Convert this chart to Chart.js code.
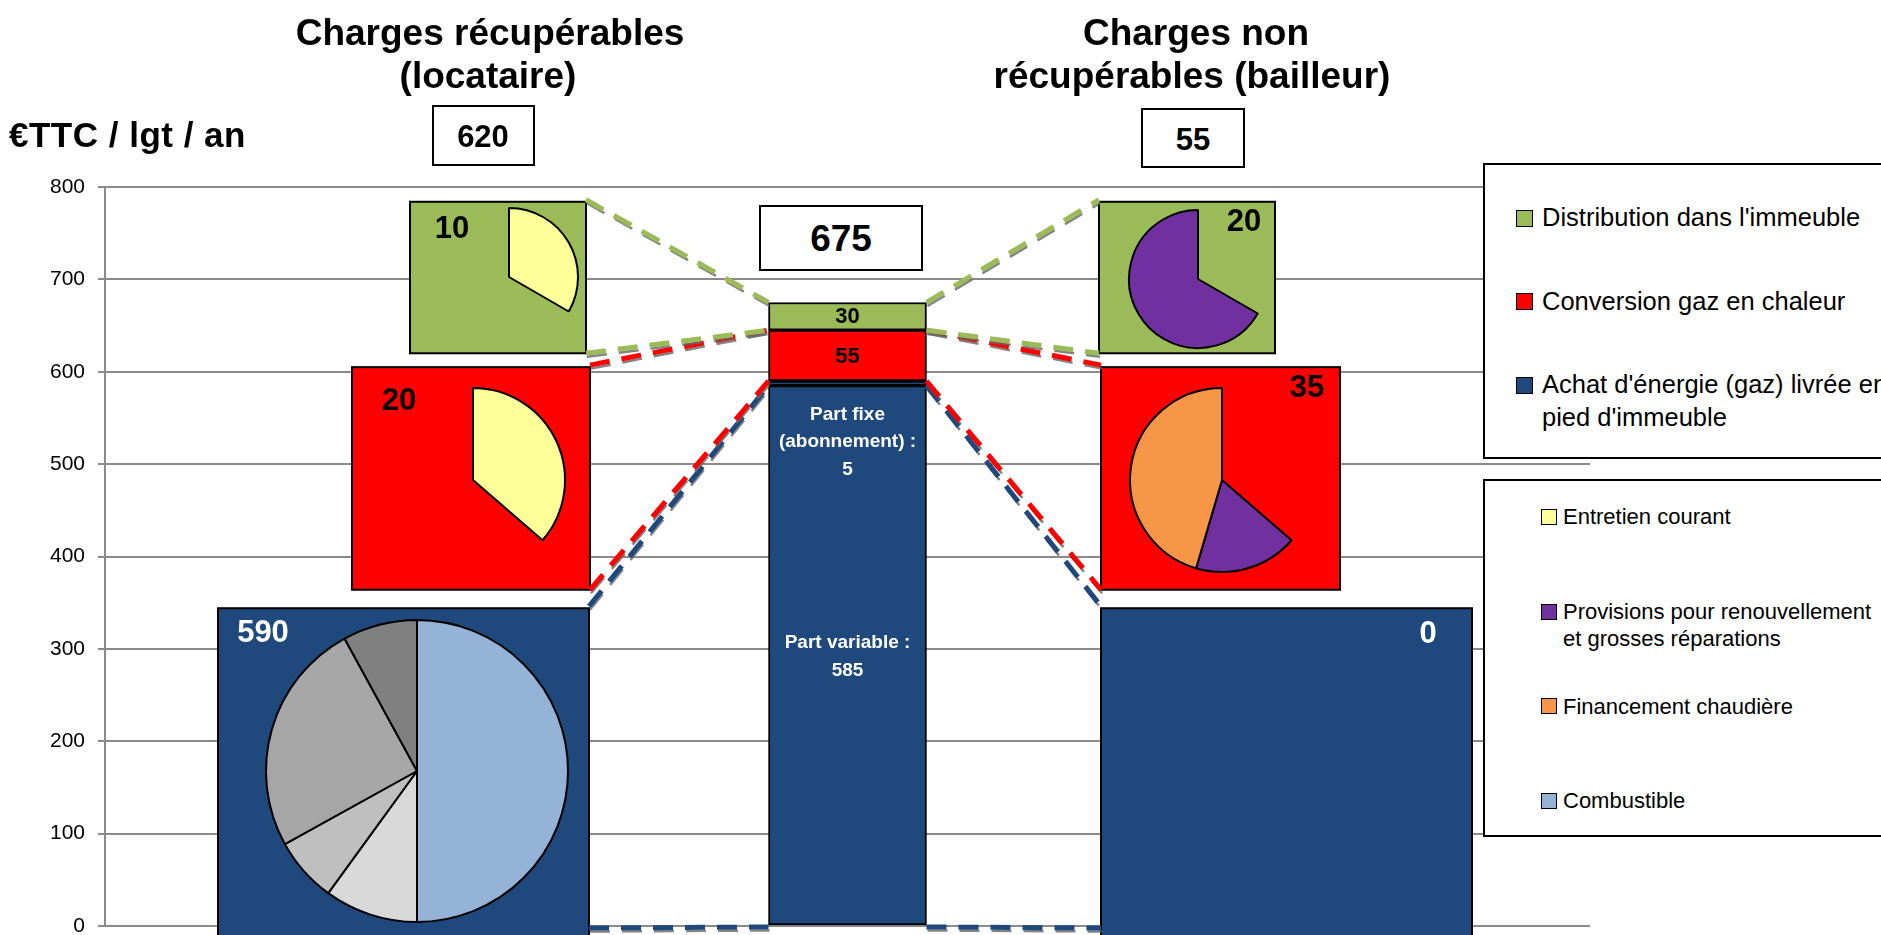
<!DOCTYPE html>
<html>
<head>
<meta charset="utf-8">
<script src="https://cdn.jsdelivr.net/npm/chart.js@4.4.0/dist/chart.umd.min.js"></script>
<style>
  body { margin: 0; background: #fff; }
  #wrap { position: relative; width: 1881px; height: 935px; overflow: hidden; font-family: "Liberation Sans", Arial, sans-serif; }
  #wrap canvas { position: absolute; }
  .t { position: absolute; white-space: nowrap; color: #000; }
  .box { position: absolute; border: 2px solid #000; box-sizing: border-box; background: #fff; }
  .sw { position: absolute; border: 1.5px solid #000; box-sizing: border-box; }
</style>
</head>
<body>
<div id="wrap">
  <canvas id="main" width="1881" height="935" style="left:0;top:0"></canvas>
</div>
<script>
// y axis
const yMin = 0;
const yMax = 800;
const yStep = 100;
const yUnit = '€TTC / lgt / an';

// columns: tenant side, total bar, landlord side
const categories = ['Charges récupérables (locataire)', 'Total', 'Charges non récupérables (bailleur)'];

// series, stacked bottom -> top
const seriesNames = ["Achat d'énergie (gaz) livrée en pied d'immeuble", 'Conversion gaz en chaleur', "Distribution dans l'immeuble"];
const locataire = [590, 20, 10];
const bailleur = [0, 35, 20];

// the energy purchase split in the middle bar
const achatParts = [585, 5];
const achatPartLabels = ['Part variable :', 'Part fixe (abonnement) :'];

// sub-components shown in the pies
const subNames = ['Entretien courant', 'Provisions pour renouvellement et grosses réparations', 'Financement chaudière', 'Combustible'];
const achatSplit = [295, 59, 41, 148, 47];   // combustible + other parts
const conversionSplit = [20, 10, 25];        // entretien, provisions, financement
const conversionPayer = ['L', 'R', 'R'];
const distributionSplit = [10, 20];          // entretien, provisions
const distributionPayer = ['L', 'R'];

const palette = {
  series: ['#1F497D', '#FF0000', '#9BBB59'],
  sub: ['#FFFF99', '#7030A0', '#F79646', '#95B3D7'],
  achatSplit: ['#95B3D7', '#D9D9D9', '#BFBFBF', '#A6A6A6', '#808080'],
  grid: '#8a8a8a'
};

const FONT = '"Liberation Sans", Arial, sans-serif';

// inset frames beside the bar (x in px, vertical extent in axis units)
const insets = [
  { side: 'L', s: 0, x0: 218, x1: 589, lo: -12, hi: 344, lx: 45, ly: 25 },
  { side: 'L', s: 1, x0: 352, x1: 590, lo: 364, hi: 605, lx: 47, ly: 34 },
  { side: 'L', s: 2, x0: 410, x1: 586, lo: 620, hi: 784, lx: 42, ly: 28 },
  { side: 'R', s: 0, x0: 1101, x1: 1472, lo: -12, hi: 344, lx: 44, ly: 26 },
  { side: 'R', s: 1, x0: 1101, x1: 1340, lo: 364, hi: 605, lx: 33, ly: 21 },
  { side: 'R', s: 2, x0: 1099, x1: 1275, lo: 620, hi: 784, lx: 31, ly: 21 }
];

const pies = [
  { side: 'L', s: 0, cx: 417, cy: 168, r: 151 },
  { side: 'L', s: 1, cx: 473, cy: 483, r: 92 },
  { side: 'R', s: 1, cx: 1222, cy: 483, r: 92 },
  { side: 'L', s: 2, cx: 509, cy: 703, r: 69 },
  { side: 'R', s: 2, cx: 1198, cy: 700, r: 69 }
];

const sum = a => a.reduce((p, c) => p + c, 0);
const totals = locataire.map((v, i) => v + bailleur[i]);

function dashLine(ctx, x1, y1, x2, y2, color) {
  ctx.save();
  ctx.setLineDash([20, 12]);
  ctx.lineCap = 'butt';
  ctx.strokeStyle = 'rgba(100,100,100,0.8)';
  ctx.lineWidth = 2.5;
  ctx.beginPath();
  ctx.moveTo(x1 + 1, y1 + 3.5);
  ctx.lineTo(x2 + 1, y2 + 3.5);
  ctx.stroke();
  ctx.strokeStyle = color;
  ctx.lineWidth = 5;
  ctx.beginPath();
  ctx.moveTo(x1, y1);
  ctx.lineTo(x2, y2);
  ctx.stroke();
  ctx.restore();
}

// dataset of the middle bar that each series connects to
const segOf = [0, 2, 3];

const decor = {
  id: 'decor',
  beforeDatasetsDraw(chart) {
    const ctx = chart.ctx;
    const y = chart.scales.y;
    insets.forEach(b => {
      const top = y.getPixelForValue(b.hi);
      const bottom = y.getPixelForValue(b.lo);
      ctx.fillStyle = palette.series[b.s];
      ctx.fillRect(b.x0, top, b.x1 - b.x0, bottom - top);
      ctx.strokeStyle = '#000';
      ctx.lineWidth = 2;
      ctx.strokeRect(b.x0, top, b.x1 - b.x0, bottom - top);
      const val = b.side === 'L' ? locataire[b.s] : bailleur[b.s];
      ctx.fillStyle = b.s === 0 ? '#fff' : '#000';
      ctx.font = 'bold 31px ' + FONT;
      ctx.textAlign = 'center';
      ctx.textBaseline = 'middle';
      const lx = b.side === 'L' ? b.x0 + b.lx : b.x1 - b.lx;
      ctx.fillText(String(val), lx, top + b.ly);
    });
  },
  afterDatasetsDraw(chart) {
    const ctx = chart.ctx;
    const y = chart.scales.y;
    const el = i => chart.getDatasetMeta(i).data[1];
    const bar = el(0);
    const barL = bar.x - bar.width / 2;
    const barR = bar.x + bar.width / 2;

    // connectors from the insets to the bar segments
    insets.forEach(b => {
      const top = y.getPixelForValue(b.hi);
      const bottom = b.s === 0 ? y.getPixelForValue(0) + 2 : y.getPixelForValue(b.lo);
      const segTop = el(segOf[b.s]).y;
      const segBase = b.s === 0 ? el(0).base + 2 : el(segOf[b.s]).base;
      const color = palette.series[b.s];
      if (b.side === 'L') {
        dashLine(ctx, b.x1, top - 2, barL, segTop, color);
        dashLine(ctx, b.x1, bottom, barL, segBase, color);
      } else {
        dashLine(ctx, barR, segTop, b.x0, top - 2, color);
        dashLine(ctx, barR, segBase, b.x0, bottom, color);
      }
    });

    // labels in the bar
    ctx.save();
    ctx.textAlign = 'center';
    ctx.textBaseline = 'middle';
    ctx.font = 'bold 22px ' + FONT;
    ctx.fillStyle = '#000';
    [2, 3].forEach(i => {
      const e = el(i);
      ctx.fillText(String(chart.data.datasets[i].data[1]), e.x, (e.y + e.base) / 2 + 1);
    });
    ctx.font = 'bold 19px ' + FONT;
    ctx.fillStyle = '#fff';
    const vTop = el(0).y;
    const fixe = ['Part fixe', '(abonnement) :', String(achatParts[1])];
    fixe.forEach((t, k) => ctx.fillText(t, bar.x, vTop + 29 + k * 27.5));
    const variable = [achatPartLabels[0], String(achatParts[0])];
    variable.forEach((t, k) => ctx.fillText(t, bar.x, vTop + 257 + k * 28.5));
    ctx.restore();
  }
};

Chart.defaults.font.family = FONT;

const barStyle = { backgroundColor: palette.series[0], borderColor: '#000', borderWidth: 2, borderSkipped: false, barThickness: 158, stack: 's' };

const chart = new Chart(document.getElementById('main'), {
  type: 'bar',
  data: {
    labels: categories,
    datasets: [
      { ...barStyle, label: achatPartLabels[0], data: [null, achatParts[0], null] },
      { ...barStyle, label: achatPartLabels[1], data: [null, achatParts[1], null] },
      { ...barStyle, label: seriesNames[1], data: [null, totals[1], null], backgroundColor: palette.series[1] },
      { ...barStyle, label: seriesNames[2], data: [null, totals[2], null], backgroundColor: palette.series[2] }
    ]
  },
  options: {
    responsive: false,
    animation: false,
    events: [],
    layout: { padding: { left: 0, top: 187, right: 291, bottom: 9 } },
    plugins: { legend: { display: false }, tooltip: { enabled: false } },
    scales: {
      x: { stacked: true, display: false },
      y: {
        stacked: true,
        min: yMin,
        max: yMax,
        ticks: { stepSize: yStep, color: '#000', padding: 13, font: { size: 21 } },
        grid: { color: palette.grid, lineWidth: 2, tickLength: 7 },
        border: { color: palette.grid, width: 2 },
        afterFit(s) { s.width = 105; s.paddingTop = 0; s.paddingBottom = 0; }
      }
    }
  },
  plugins: [decor]
});

// pies inside the insets
const wrap = document.getElementById('wrap');
const splits = [achatSplit, conversionSplit, distributionSplit];
const payers = [achatSplit.map(() => 'L'), conversionPayer, distributionPayer];
const sliceColors = [palette.achatSplit, [palette.sub[0], palette.sub[1], palette.sub[2]], [palette.sub[0], palette.sub[1]]];

pies.forEach(p => {
  const size = 2 * p.r + 10;
  const cv = document.createElement('canvas');
  cv.width = size;
  cv.height = size;
  const cy = chart.scales.y.getPixelForValue(p.cy);
  cv.style.left = (p.cx - size / 2) + 'px';
  cv.style.top = (cy - size / 2) + 'px';
  wrap.appendChild(cv);
  const show = payers[p.s].map(v => v === p.side);
  new Chart(cv, {
    type: 'pie',
    data: {
      labels: splits[p.s].map((v, i) => i),
      datasets: [{
        data: splits[p.s],
        radius: p.r,
        backgroundColor: sliceColors[p.s].map((c, i) => (show[i] ? c : 'rgba(0,0,0,0)')),
        borderColor: '#000',
        borderWidth: show.map(v => (v ? 2 : 0))
      }]
    },
    options: {
      responsive: false,
      animation: false,
      events: [],
      plugins: { legend: { display: false }, tooltip: { enabled: false } }
    }
  });
});

// texts and legends
function addText(txt, o) {
  const d = document.createElement('div');
  d.className = 't';
  d.textContent = txt;
  const s = o.size;
  const L = o.lh || s;
  d.style.fontSize = s + 'px';
  d.style.lineHeight = L + 'px';
  if (o.bold) d.style.fontWeight = 'bold';
  if (o.spacing) d.style.letterSpacing = o.spacing + 'px';
  if (o.width) { d.style.width = o.width + 'px'; d.style.whiteSpace = 'normal'; }
  d.style.top = (o.baseline - ((L - 1.117 * s) / 2 + 0.905 * s)) + 'px';
  if (o.cx !== undefined) {
    d.style.left = o.cx + 'px';
    d.style.transform = 'translateX(-50%)';
  } else {
    d.style.left = o.x + 'px';
  }
  wrap.appendChild(d);
  return d;
}

function addBox(x, y, w, h) {
  const d = document.createElement('div');
  d.className = 'box';
  Object.assign(d.style, { left: x + 'px', top: y + 'px', width: w + 'px', height: h + 'px' });
  wrap.appendChild(d);
}

addText(yUnit, { x: 9, baseline: 147, size: 35, bold: true, spacing: 0.5 });

addText('Charges récupérables', { cx: 490, baseline: 45, size: 37, bold: true });
addText('(locataire)', { cx: 488, baseline: 88, size: 37, bold: true });
addText('Charges non', { cx: 1196, baseline: 45, size: 37, bold: true });
addText('récupérables (bailleur)', { cx: 1192, baseline: 88, size: 37, bold: true });

addBox(432, 105, 103, 61);
addText(String(sum(locataire)), { cx: 483, baseline: 147, size: 31, bold: true });
addBox(1141, 108, 104, 60);
addText(String(sum(bailleur)), { cx: 1193, baseline: 150, size: 31, bold: true });
addBox(759, 205, 164, 66);
addText(String(sum(totals)), { cx: 841, baseline: 251, size: 37, bold: true });

// legend of the series
addBox(1483, 163, 460, 296);
const legend1 = [
  { s: 2, sq: 210, base: 226 },
  { s: 1, sq: 293, base: 310 },
  { s: 0, sq: 377, base: 393 }
];
legend1.forEach(it => {
  const sw = document.createElement('div');
  sw.className = 'sw';
  Object.assign(sw.style, { left: '1516px', top: it.sq + 'px', width: '17px', height: '17px', background: palette.series[it.s] });
  wrap.appendChild(sw);
  addText(seriesNames[it.s], { x: 1542, baseline: it.base, size: 25.5, lh: 33, width: 352 });
});

// legend of the sub-components
addBox(1483, 479, 460, 358);
const legend2 = [
  { k: 0, sq: 509, base: 524 },
  { k: 1, sq: 604, base: 619 },
  { k: 2, sq: 698, base: 714 },
  { k: 3, sq: 793, base: 808 }
];
legend2.forEach(it => {
  const sw = document.createElement('div');
  sw.className = 'sw';
  Object.assign(sw.style, { left: '1541px', top: it.sq + 'px', width: '16px', height: '16px', background: palette.sub[it.k] });
  wrap.appendChild(sw);
  addText(subNames[it.k], { x: 1563, baseline: it.base, size: 22, lh: 27, width: 318 });
});
</script>
</body>
</html>
